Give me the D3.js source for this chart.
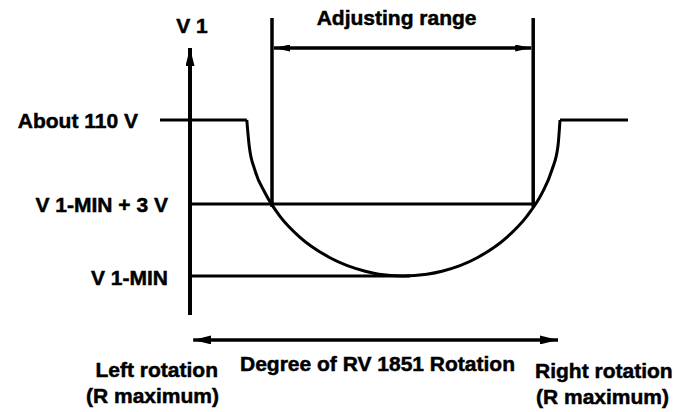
<!DOCTYPE html>
<html>
<head>
<meta charset="utf-8">
<script src="https://cdn.jsdelivr.net/npm/d3@7"></script>
<style>
  body { margin: 0; background: #fff; }
  svg text { font-family: "Liberation Sans", Arial, sans-serif; font-weight: bold; font-size: 21px; fill: #000; stroke: #000; stroke-width: 0.5px; }
</style>
</head>
<body>
<svg id="chart" width="693" height="412"></svg>
<script>
// RV 1851 rotation position (schematic units, 0 = V1 axis) and the V1 level it gives
const curveRotation = [14.2, 14.8, 16.2, 18.8, 22.5, 27.5, 35, 43.8, 47.2, 53.2, 59.2, 63, 71.8, 79.2, 84.2, 88, 90.5, 92, 92.5];
const curveLevel    = [65, 56.4, 48.4, 40.6, 32.9, 25.9, 19.1, 14.6, 13.6, 13, 13.6, 14.6, 19.1, 25.9, 32.9, 40.6, 48.4, 56.4, 65];

// Flat parts of V1 at both ends of the rotation
const plateauLeft  = [-7.5, 14.2];
const plateauRight = [92.5, 109.5];

// Named V1 levels on the vertical axis
const levelLabels = ["About 110 V", "V 1-MIN + 3 V", "V 1-MIN"];
const levelValues = [65, 37, 13];
const levelLineEnd = [null, 85.8, 55];

// Adjusting range: rotation where V1 stays below V1-MIN + 3 V
const adjustRange = [20.5, 85.8];
const adjustTop = 99;
const adjustArrowLevel = 89;

// Axis extents
const axisTop = 89;
const rotationSpan = [0.8, 92];
const rotationArrowLevel = -8.3;

const svg = d3.select("#chart");
const x = d3.scaleLinear().domain([0, 110]).range([190, 630]);
const y = d3.scaleLinear().domain([0, 90]).range([315, 45]);

// Arrowhead markers
const defs = svg.append("defs");
function arrow(id, len, half) {
  defs.append("marker")
    .attr("id", id)
    .attr("viewBox", `0 ${-half} ${len} ${half * 2}`)
    .attr("refX", len).attr("refY", 0)
    .attr("markerUnits", "userSpaceOnUse")
    .attr("markerWidth", len).attr("markerHeight", half * 2)
    .attr("orient", "auto-start-reverse")
    .append("path")
    .attr("d", `M0,${-half}L${len},0L0,${half}Z`)
    .attr("fill", "#000");
}
arrow("tipBig", 18, 4.5);
arrow("tipSmall", 16, 3.5);

const line = (x1, y1, x2, y2, w) => svg.append("line")
  .attr("x1", x1).attr("y1", y1).attr("x2", x2).attr("y2", y2)
  .attr("stroke", "#000").attr("stroke-width", w);

// Level lines
line(x(plateauLeft[0]), y(levelValues[0]), x(plateauLeft[1]), y(levelValues[0]), 3);
line(x(plateauRight[0]), y(levelValues[0]), x(plateauRight[1]), y(levelValues[0]), 3);
line(x(0), y(levelValues[1]), x(levelLineEnd[1]), y(levelValues[1]), 3);
line(x(0), y(levelValues[2]), x(levelLineEnd[2]), y(levelValues[2]), 3);

// V1 vs rotation curve
const pts = curveRotation.map((r, i) => [r, curveLevel[i]]);
svg.append("path")
  .datum(pts)
  .attr("fill", "none")
  .attr("stroke", "#000")
  .attr("stroke-width", 3)
  .attr("d", d3.line().x(d => x(d[0])).y(d => y(d[1])).curve(d3.curveMonotoneX));

// Adjusting range bounds and double arrow
adjustRange.forEach(r => line(x(r), y(levelValues[1]) + 3, x(r), y(adjustTop), 3.5));
line(x(adjustRange[0]) + 2, y(adjustArrowLevel), x(adjustRange[1]) - 2, y(adjustArrowLevel), 3.5)
  .attr("marker-start", "url(#tipSmall)")
  .attr("marker-end", "url(#tipSmall)");

svg.append("text")
  .attr("x", (x(adjustRange[0]) + x(adjustRange[1])) / 2 - 6)
  .attr("y", 25)
  .attr("text-anchor", "middle")
  .text("Adjusting range");

// V1 axis
const yAxis = d3.axisLeft(y)
  .tickValues(levelValues)
  .tickFormat((d, i) => levelLabels[i])
  .tickSize(0)
  .tickPadding(22);
const gy = svg.append("g")
  .attr("transform", `translate(${x(0)},0)`)
  .call(yAxis)
  .attr("font-size", null)
  .attr("font-family", null);
gy.select(".domain").remove();
gy.selectAll(".tick text")
  .attr("x", (d, i) => i === 0 ? -52 : -22)
  .attr("dy", (d, i) => i === 2 ? "0.42em" : "0.36em");

line(x(0), y(0), x(0), y(axisTop), 4).attr("marker-end", "url(#tipBig)");
svg.append("text")
  .attr("x", x(0) + 2).attr("y", 33)
  .attr("text-anchor", "middle")
  .text("V 1");

// Rotation double arrow and its labels
line(x(rotationSpan[0]), y(rotationArrowLevel), x(rotationSpan[1]), y(rotationArrowLevel), 3.5)
  .attr("marker-start", "url(#tipBig)")
  .attr("marker-end", "url(#tipBig)");

svg.append("text").attr("x", 240).attr("y", 371).text("Degree of RV 1851 Rotation");

const leftLab = svg.append("text").attr("text-anchor", "end");
leftLab.append("tspan").attr("x", 218).attr("y", 377).text("Left rotation");
leftLab.append("tspan").attr("x", 219).attr("y", 403).text("(R maximum)");

const rightLab = svg.append("text").attr("text-anchor", "start");
rightLab.append("tspan").attr("x", 535).attr("y", 378).text("Right rotation");
rightLab.append("tspan").attr("x", 536).attr("y", 404).text("(R maximum)");
</script>
</body>
</html>
